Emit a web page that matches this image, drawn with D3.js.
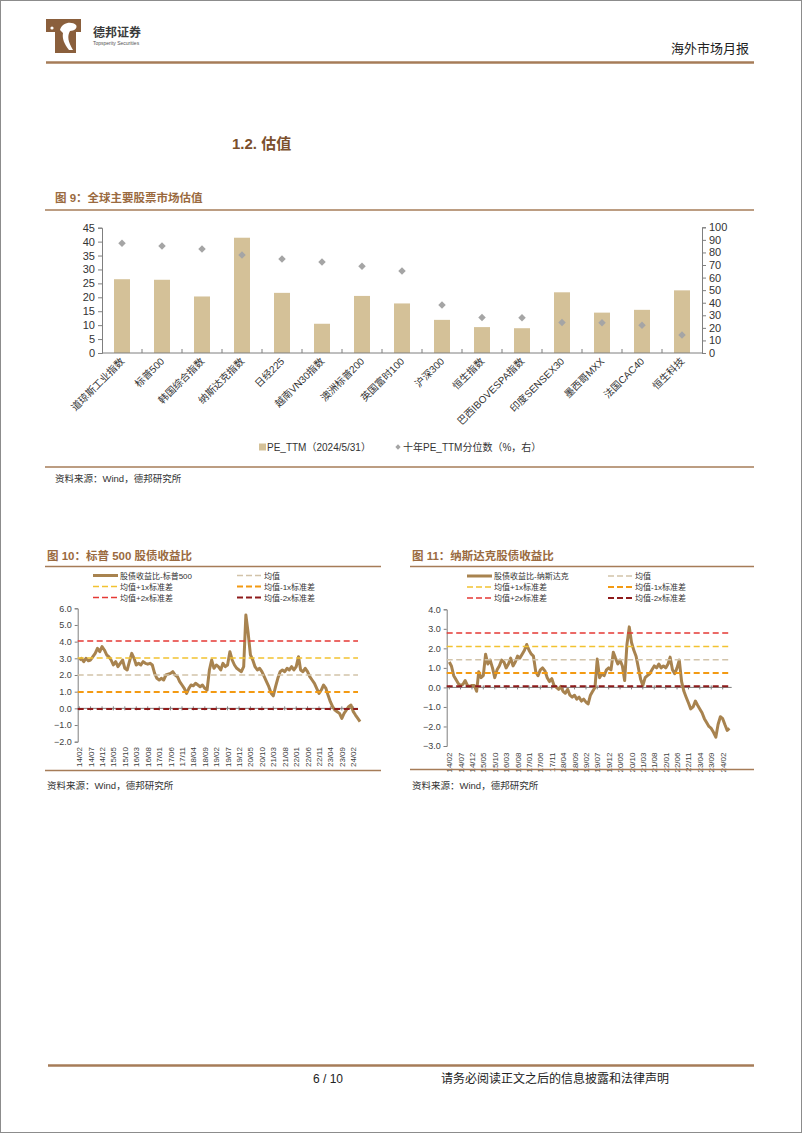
<!DOCTYPE html>
<html>
<head>
<meta charset="utf-8">
<script src="https://cdn.jsdelivr.net/npm/d3@7"></script>
<style>
  body { margin: 0; background: #fff; }
  svg { display: block; font-family: "Liberation Sans", Arial, "Noto Sans CJK SC", sans-serif; }
</style>
</head>
<body>
<div id="page"></div>
<script>
// ---- 图9 data
var markets = ["道琼斯工业指数", "标普500", "韩国综合指数", "纳斯达克指数", "日经225", "越南VN30指数",
  "澳洲标普200", "英国富时100", "沪深300", "恒生指数", "巴西IBOVESPA指数", "印度SENSEX30",
  "墨西哥MXX", "法国CAC40", "恒生科技"];
var peTTM = [26.5, 26.3, 20.3, 41.4, 21.6, 10.5, 20.5, 17.8, 11.9, 9.3, 8.9, 21.8, 14.5, 15.5, 22.5];
var pePct = [87.3, 85.1, 82.8, 78.0, 74.8, 72.4, 69.0, 65.3, 38.1, 28.3, 28.0, 24.3, 24.1, 22.0, 14.3];
var leftTicks = [0, 5, 10, 15, 20, 25, 30, 35, 40, 45];
var rightTicks = [0, 10, 20, 30, 40, 50, 60, 70, 80, 90, 100];

// ---- 图10 / 图11 data (monthly, 2014/02 - 2024/05)
var monthLabels = ["14/02", "14/07", "14/12", "15/05", "15/10", "16/03", "16/08", "17/01", "17/06",
  "17/11", "18/04", "18/09", "19/02", "19/07", "19/12", "20/05", "20/10", "21/03", "21/08",
  "22/01", "22/06", "22/11", "23/04", "23/09", "24/02"];
var spxRatio = [
  2.9, 3.0, 2.8, 3.0, 2.85, 2.9, 3.1, 3.3, 3.6, 3.4, 3.7,
  3.5, 3.2, 3.1, 2.9, 2.6, 2.8, 2.5, 2.7, 2.9, 2.4, 2.3, 2.8,
  3.3, 3.0, 2.6, 2.7, 2.6, 2.8, 2.7, 2.65, 2.7, 2.6, 2.1, 1.8,
  1.7, 1.8, 1.7, 2.0, 2.05, 2.1, 2.2, 2.0, 1.9, 1.6, 1.4, 1.2,
  0.9, 1.2, 1.4, 1.35, 1.5, 1.4, 1.3, 1.4, 1.2, 1.1, 2.3, 2.9,
  2.4, 2.6, 2.5, 2.3, 2.7, 2.5, 2.6, 3.4, 2.9, 2.6, 2.4, 2.3,
  2.2, 2.5, 5.6, 4.5, 3.2, 2.9, 2.5, 2.3, 2.4, 2.2, 1.9, 1.6,
  1.3, 0.9, 0.75, 1.3, 1.8, 2.2, 2.3, 2.2, 2.4, 2.3, 2.5, 2.3,
  2.5, 3.1, 2.3, 2.2, 2.4, 2.2, 1.9, 1.7, 1.5, 1.2, 0.9, 1.1,
  1.4, 1.2, 0.8, 0.4, 0.1, -0.1, -0.2, -0.3, -0.6, -0.3, -0.1, 0.1,
  0.2, -0.2, -0.4, -0.6, -0.8];
var ndxRatio = [
  1.3, 1.1, 0.6, 0.4, 0.2, 0.1, 0.15, 0.35, 0.1, 0.05, 0.1,
  0.1, -0.2, 0.8, 0.5, 0.6, 1.7, 1.2, 1.4, 1.0, 0.5, 0.9, 1.1,
  1.4, 1.3, 1.0, 1.2, 1.5, 1.1, 1.3, 1.6, 1.5, 1.7, 1.9, 2.2,
  1.9, 1.7, 1.6, 0.8, 0.6, 0.9, 1.0, 0.85, 0.5, 0.3, 0.45, 0.1,
  0.0, -0.1, 0.05, -0.2, -0.3, -0.1, -0.4, -0.5, -0.4, -0.6, -0.5, -0.7,
  -0.6, -0.75, -0.85, -0.4, -0.2, 0.0, 1.45, 0.5, 0.7, 0.6, 0.9, 1.0,
  0.9, 1.8, 1.5, 1.2, 1.4, 1.1, 0.35, 2.2, 3.1, 2.3, 1.9, 1.6,
  1.0, 0.4, 0.1, 0.5, 0.6, 0.7, 0.9, 1.1, 1.0, 1.2, 1.0, 1.1,
  1.0, 1.2, 1.55, 0.9, 0.7, 1.0, 1.4, 0.3, -0.2, -0.5, -0.8, -1.1,
  -1.0, -0.7, -0.9, -1.1, -1.3, -1.6, -1.8, -2.0, -2.1, -2.3, -2.55, -1.9,
  -1.5, -1.6, -1.9, -2.2, -2.1];
// order: 均值, +1x, -1x, +2x, -2x
var bandNames = ["均值", "均值+1x标准差", "均值-1x标准差", "均值+2x标准差", "均值-2x标准差"];
var spxBands = [2.0, 3.02, 0.98, 4.04, -0.04];
var ndxBands = [1.42, 2.10, 0.74, 2.78, 0.06];

var brown = "#a67c58",
    titleColor = "#9a6a40",
    barColor = "#d4c198",
    dotColor = "#a5a5a5",
    lineColor = "#a8834f",
    bandColors = ["#d2c3a9", "#f2c230", "#f39a12", "#e53935", "#8e1b1b"],
    bandWidths = [1.5, 1.5, 2, 1.5, 1.8];

var svg = d3.select("#page").append("svg")
    .attr("width", 802)
    .attr("height", 1133);

svg.append("rect").attr("x", 0.5).attr("y", 0.5).attr("width", 801).attr("height", 1132)
    .attr("fill", "#fff").attr("stroke", "#8c8c8c");

// ---- header
var logo = svg.append("g");
logo.append("rect").attr("x", 46).attr("y", 19).attr("width", 35).attr("height", 13).attr("fill", "#8a5f3c");
logo.append("rect").attr("x", 55).attr("y", 31).attr("width", 21).attr("height", 22).attr("fill", "#8a5f3c");
logo.append("path")
    .attr("d", "M60,30 C62,22 72,21 76,25 C78,28 74,31 70,31 C67,36 68,42 73,50 L69,50 C64,44 62,38 63,33 Z")
    .attr("fill", "#fff");
logo.append("circle").attr("cx", 52).attr("cy", 28).attr("r", 1.6).attr("fill", "#fff");
svg.append("text").attr("x", 93).attr("y", 37).text("德邦证券")
    .style("font-size", "12px").style("font-weight", "bold").style("fill", "#3a3a3a");
svg.append("text").attr("x", 93).attr("y", 45).text("Topsperity Securities")
    .style("font-size", "5px").style("fill", "#555");
svg.append("text").attr("x", 749).attr("y", 53).attr("text-anchor", "end").text("海外市场月报")
    .style("font-size", "13px").style("fill", "#222");
svg.append("line").attr("x1", 46).attr("x2", 754).attr("y1", 62.5).attr("y2", 62.5)
    .attr("stroke", brown).attr("stroke-width", 2.5);

svg.append("text").attr("x", 232).attr("y", 149).text("1.2. 估值")
    .style("font-size", "15px").style("font-weight", "bold").style("fill", "#7b4f2c");

function figTitle(x, y, txt) {
  svg.append("text").attr("x", x).attr("y", y).text(txt)
      .style("font-size", "11.5px").style("font-weight", "bold").style("fill", titleColor);
}
function rule(x1, x2, y, w) {
  svg.append("line").attr("x1", x1).attr("x2", x2).attr("y1", y).attr("y2", y)
      .attr("stroke", brown).attr("stroke-width", w || 1.3);
}
function source(x, y) {
  svg.append("text").attr("x", x).attr("y", y).text("资料来源：Wind，德邦研究所")
      .style("font-size", "9.5px").style("fill", "#333");
}

// ---- 图9
figTitle(55, 202, "图 9：全球主要股票市场估值");
rule(45, 754, 210);

var x9 = d3.scaleBand().domain(markets).range([102, 702]).paddingInner(0.6).paddingOuter(0.3);
var yL = d3.scaleLinear().domain([0, 45]).range([353, 227.7]);
var yR = d3.scaleLinear().domain([0, 100]).range([353, 227.3]);

var g9 = svg.append("g");
g9.selectAll("rect.bar")
  .data(peTTM)
  .enter()
    .append("rect")
      .attr("class", "bar")
      .attr("x", function(d, i) { return x9(markets[i]); })
      .attr("width", x9.bandwidth())
      .attr("y", function(d) { return yL(d); })
      .attr("height", function(d) { return yL(0) - yL(d); })
      .attr("fill", barColor);

g9.selectAll("path.dot")
  .data(pePct)
  .enter()
    .append("path")
      .attr("class", "dot")
      .attr("d", d3.symbol().type(d3.symbolSquare).size(28))
      .attr("transform", function(d, i) {
        return "translate(" + (x9(markets[i]) + x9.bandwidth() / 2) + "," + yR(d) + ") rotate(45)";
      })
      .attr("fill", dotColor);

var axL = g9.append("g")
    .attr("transform", "translate(102,0)")
    .call(d3.axisLeft(yL).tickValues(leftTicks).tickSize(4).tickPadding(3));
var axR = g9.append("g")
    .attr("transform", "translate(702,0)")
    .call(d3.axisRight(yR).tickValues(rightTicks).tickSize(4).tickPadding(3));
[axL, axR].forEach(function(a) {
  a.selectAll("path, line").attr("stroke", "#7f7f7f");
  a.selectAll("text").style("font-size", "11px").style("fill", "#333")
      .style("font-family", "'Liberation Sans', Arial, sans-serif");
});

// x axis with inner ticks between categories
var axX = g9.append("g").attr("transform", "translate(0,353)");
axX.append("line").attr("x1", 102).attr("x2", 702).attr("stroke", "#7f7f7f");
axX.selectAll("line.tk")
  .data(markets.slice(1))
  .enter()
    .append("line")
      .attr("class", "tk")
      .attr("x1", function(d) { return x9(d) - x9.step() * 0.3; })
      .attr("x2", function(d) { return x9(d) - x9.step() * 0.3; })
      .attr("y1", 0).attr("y2", -4)
      .attr("stroke", "#7f7f7f");
g9.selectAll("text.cat")
  .data(markets)
  .enter()
    .append("text")
      .attr("class", "cat")
      .attr("text-anchor", "end")
      .attr("transform", function(d) {
        return "translate(" + (x9(d) + x9.bandwidth() / 2 + 3) + ",362) rotate(-45)";
      })
      .text(function(d) { return d; })
      .style("font-size", "10px")
      .style("fill", "#333");

// legend
var lg9 = svg.append("g");
lg9.append("rect").attr("x", 259).attr("y", 443.5).attr("width", 7).attr("height", 7).attr("fill", barColor);
lg9.append("text").attr("x", 267).attr("y", 451).text("PE_TTM（2024/5/31）")
    .style("font-size", "10px").style("fill", "#333");
lg9.append("path").attr("d", d3.symbol().type(d3.symbolSquare).size(14))
    .attr("transform", "translate(398,447) rotate(45)").attr("fill", dotColor);
lg9.append("text").attr("x", 403).attr("y", 451).text("十年PE_TTM分位数（%，右）")
    .style("font-size", "10px").style("fill", "#333");

rule(45, 754, 467);
source(55, 482);

// ---- 图10 / 图11
function parseLabel(s) {
  var p = s.split("/");
  return new Date(2000 + (+p[0]), +p[1] - 1, 1);
}

function ratioChart(cfg) {
  var dates = cfg.values.map(function(d, i) { return new Date(2014, 1 + i, 1); });
  var x = d3.scaleTime()
      .domain([parseLabel(monthLabels[0]), parseLabel(monthLabels[monthLabels.length - 1])])
      .range([cfg.x0, cfg.x1]);
  var y = d3.scaleLinear().domain(cfg.yDomain).range([cfg.yBottom, cfg.yTop]);

  var g = svg.append("g");

  // legend
  var items = [{name: cfg.seriesName, color: lineColor, width: 3, dash: null}];
  bandNames.forEach(function(n, i) {
    items.push({name: n, color: bandColors[i], width: bandWidths[i], dash: "6,3"});
  });
  items.forEach(function(it, i) {
    var col = i % 2, row = Math.floor(i / 2);
    var lx = cfg.legendX[col], ly = cfg.legendY + row * 11;
    g.append("line").attr("x1", lx).attr("x2", lx + 25).attr("y1", ly).attr("y2", ly)
        .attr("stroke", it.color).attr("stroke-width", it.width)
        .attr("stroke-dasharray", it.dash);
    g.append("text").attr("x", lx + 27).attr("y", ly + 3).text(it.name)
        .style("font-size", "8px").style("fill", "#333");
  });

  // y axis
  var ay = g.append("g")
      .attr("transform", "translate(" + cfg.axisX + ",0)")
      .call(d3.axisLeft(y).tickValues(d3.range(cfg.yDomain[0], cfg.yDomain[1] + 0.5, 1))
        .tickFormat(d3.format(".1f")).tickSize(3).tickPadding(3));
  ay.selectAll("path, line").attr("stroke", "#7f7f7f");
  ay.selectAll("text").style("font-size", "9px").style("fill", "#404040");

  // x axis along zero
  var ax = g.append("g").attr("transform", "translate(0," + y(0) + ")");
  ax.append("line").attr("x1", cfg.axisX).attr("x2", cfg.bandEnd).attr("stroke", "#7f7f7f");
  ax.selectAll("line.tk")
    .data(monthLabels)
    .enter()
      .append("line")
        .attr("class", "tk")
        .attr("x1", function(d) { return x(parseLabel(d)); })
        .attr("x2", function(d) { return x(parseLabel(d)); })
        .attr("y1", -2).attr("y2", 2)
        .attr("stroke", "#7f7f7f");
  g.selectAll("text.mlab")
    .data(monthLabels)
    .enter()
      .append("text")
        .attr("class", "mlab")
        .attr("text-anchor", "end")
        .attr("transform", function(d) {
          return "translate(" + (x(parseLabel(d)) + 3) + "," + cfg.labelY + ") rotate(-90)";
        })
        .text(function(d) { return d; })
        .style("font-size", "8px")
        .style("fill", "#404040");

  // series
  var line = d3.line()
      .x(function(d, i) { return x(dates[i]); })
      .y(function(d) { return y(d); });
  g.append("path")
      .datum(cfg.values)
      .attr("fill", "none")
      .attr("stroke", lineColor)
      .attr("stroke-width", 3)
      .attr("stroke-linejoin", "round")
      .attr("d", line);

  // bands on top
  g.selectAll("line.band")
    .data(cfg.bands)
    .enter()
      .append("line")
        .attr("class", "band")
        .attr("x1", cfg.axisX).attr("x2", cfg.bandEnd)
        .attr("y1", function(d) { return y(d); })
        .attr("y2", function(d) { return y(d); })
        .attr("stroke", function(d, i) { return bandColors[i]; })
        .attr("stroke-width", function(d, i) { return bandWidths[i]; })
        .attr("stroke-dasharray", "6,3.5");
}

figTitle(47, 560, "图 10：标普 500 股债收益比");
rule(45, 381, 566.5);
ratioChart({
  seriesName: "股债收益比-标普500",
  values: spxRatio, bands: spxBands,
  yDomain: [-2, 6], yTop: 608.3, yBottom: 741.7,
  axisX: 77.7, x0: 79.3, x1: 353.3, bandEnd: 358,
  labelY: 747,
  legendX: [93, 237], legendY: 575.5
});
rule(45, 381, 770.5);
source(47, 789);

figTitle(412, 560, "图 11：纳斯达克股债收益比");
rule(410, 754, 566.5);
ratioChart({
  seriesName: "股债收益比-纳斯达克",
  values: ndxRatio, bands: ndxBands,
  yDomain: [-3, 4], yTop: 609.3, yBottom: 746,
  axisX: 446.7, x0: 449.3, x1: 722.7, bandEnd: 731.7,
  labelY: 752.5,
  legendX: [467, 608], legendY: 576
});
rule(410, 754, 769.5);
source(412, 789);

// ---- footer
svg.append("line").attr("x1", 48).attr("x2", 754).attr("y1", 1065.5).attr("y2", 1065.5)
    .attr("stroke", brown).attr("stroke-width", 2.5);
svg.append("text").attr("x", 313).attr("y", 1083).text("6 / 10")
    .style("font-size", "12px").style("fill", "#222");
svg.append("text").attr("x", 441).attr("y", 1083).text("请务必阅读正文之后的信息披露和法律声明")
    .style("font-size", "12px").style("fill", "#222");
</script>
</body>
</html>
